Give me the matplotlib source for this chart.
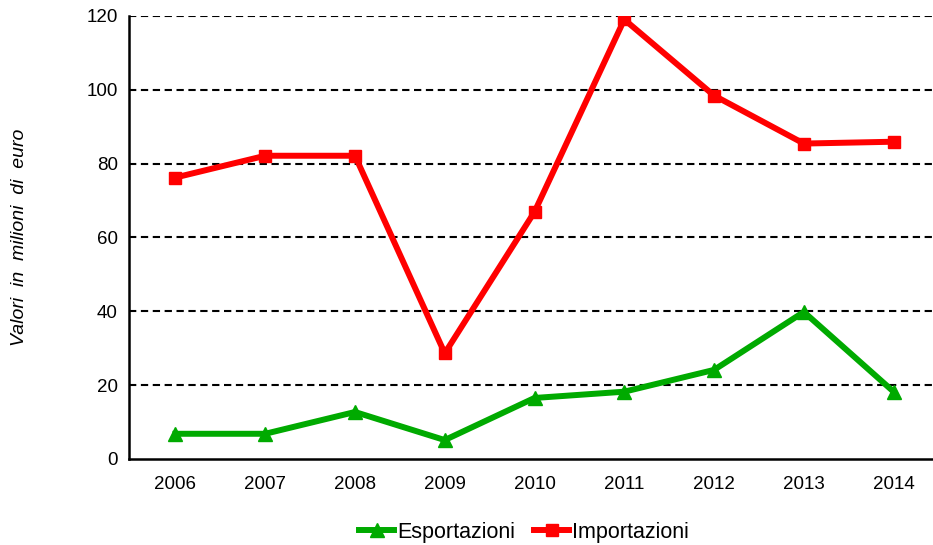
import matplotlib
matplotlib.use('Agg')
import matplotlib.pyplot as plt

years = ['2006', '2007', '2008', '2009', '2010', '2011', '2012', '2013', '2014']
esportazioni = [6.8, 6.8, 12.7, 5.1, 16.5, 18.2, 24.1, 39.8, 18.2]
importazioni = [76.2, 82.1, 82.1, 28.6, 66.9, 119.0, 98.4, 85.4, 85.9]
yticks = [0, 20, 40, 60, 80, 100, 120]

plt.rcParams['font.family'] = ['Liberation Sans', 'DejaVu Sans']

fig = plt.figure(figsize=(9.33, 5.45), dpi=100, facecolor='white')
ax = fig.add_axes([0.138, 0.158, 0.865, 0.813])

x = range(len(years))
ax.plot(x, esportazioni, color='#00aa00', lw=4.3, marker='^', ms=10, label='Esportazioni')
ax.plot(x, importazioni, color='#ff0000', lw=4.3, marker='s', ms=8.5, label='Importazioni')

ax.set_xlim(-0.52, 8.47)
ax.set_ylim(0, 120)
ax.set_xticks(list(x))
ax.set_xticklabels(years)
ax.set_yticks(yticks)
for v in yticks[1:]:
    ax.axhline(v, color='black', lw=1.5, ls=(0, (3.5, 2.2)), zorder=0)

ax.spines['top'].set_visible(False)
ax.spines['right'].set_visible(False)
ax.spines['left'].set_linewidth(1.8)
ax.spines['bottom'].set_linewidth(1.8)
ax.tick_params(length=0, labelsize=13.5, pad=12)
ax.tick_params(axis='y', pad=8)

ax.set_ylabel('Valori  in  milioni  di  euro', fontsize=14, style='italic', labelpad=42)

ax.legend(loc='upper center', bbox_to_anchor=(0.49, -0.098), ncol=2, frameon=False,
          fontsize=15.5, handlelength=1.6, handletextpad=0.15, columnspacing=0.9)

fig.savefig('out.png', dpi=100)
